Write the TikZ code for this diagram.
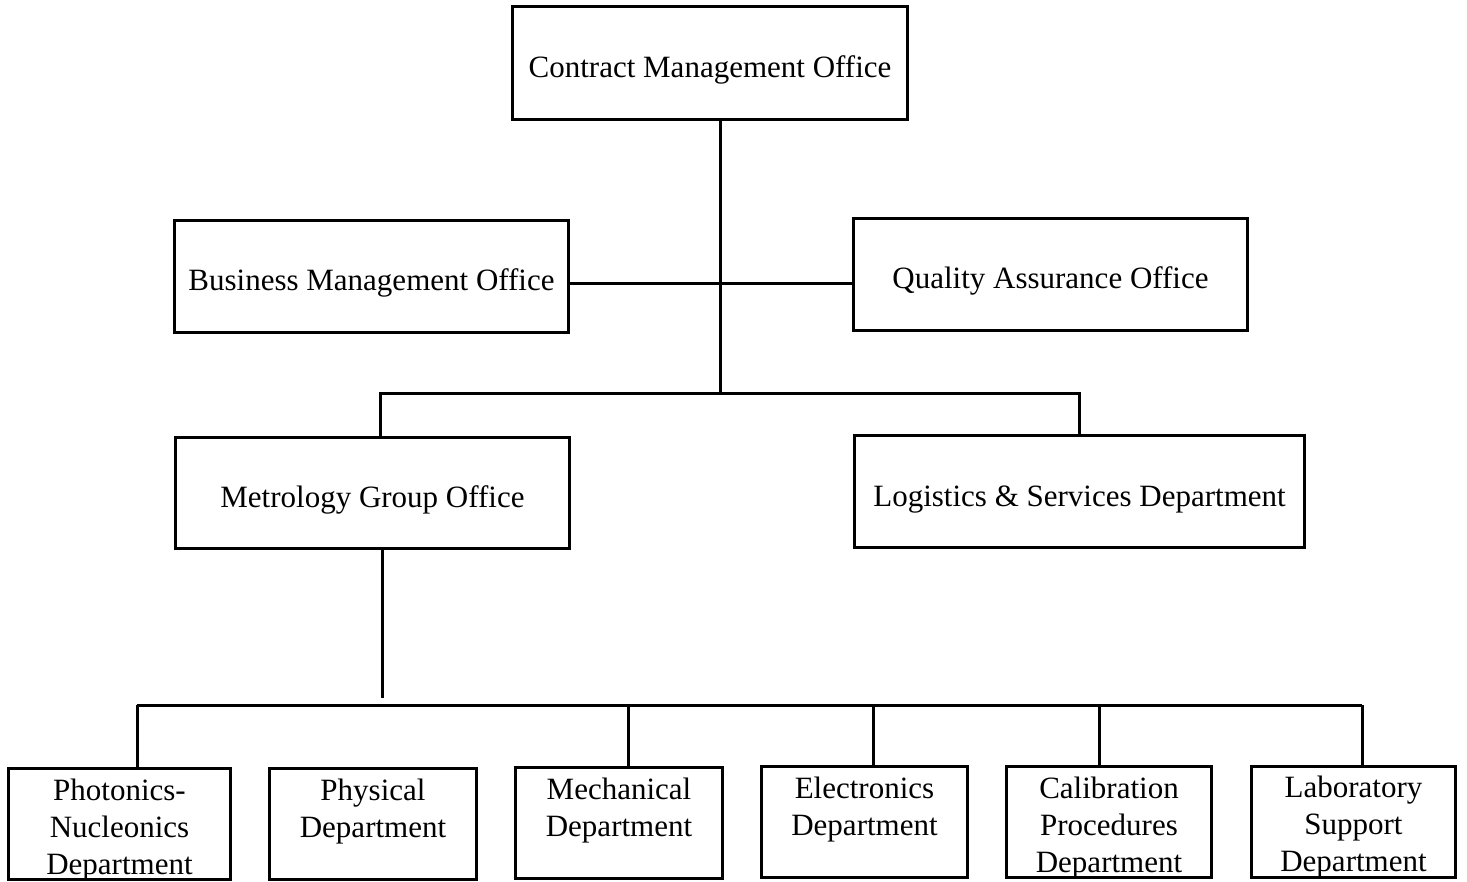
\documentclass[tikz,border=0pt]{standalone}
\usepackage{fontspec}
\setmainfont{Liberation Serif}
\tikzset{
  box/.style={draw=black, line width=3pt, inner sep=0pt, font=\fontsize{31}{37}\selectfont},
  onebox/.style={box, text height=29pt, text depth=0pt},
  conn/.style={draw=black, line width=3pt},
}
\newcommand{\deptbox}[2]{\parbox[c][111pt][t]{#1pt}{\vspace*{10pt}\centering #2}}
\begin{document}
\begin{tikzpicture}[x=1pt,y=-1pt]
\useasboundingbox (0,0) rectangle (1467,882);
% upper offices
\node[onebox, minimum width=395pt, minimum height=113pt] (cmo) at (710,63) {Contract Management Office};
\node[onebox, minimum width=394pt, minimum height=112pt] (bmo) at (371.5,276.5) {Business Management Office};
\node[onebox, minimum width=394pt, minimum height=112pt] (qao) at (1050.5,274.5) {Quality Assurance Office};
\node[onebox, minimum width=394pt, minimum height=111pt] (mgo) at (372.5,493) {Metrology Group Office};
\node[onebox, minimum width=450pt, minimum height=112pt] (lsd) at (1079.5,491.5) {Logistics \& Services Department};
% departments
\node[box] (phot) at (119.5,824) {\deptbox{222}{Photonics-\\Nucleonics\\Department}};
\node[box] (phys) at (373,824) {\deptbox{207}{Physical\\Department}};
\node[box] (mech) at (619,823) {\deptbox{207}{Mechanical\\Department}};
\node[box] (elec) at (864.5,822) {\deptbox{206}{Electronics\\Department}};
\node[box] (cali) at (1109,822) {\deptbox{205}{Calibration\\Procedures\\Department}};
\node[box] (labo) at (1353.5,821.5) {\deptbox{204}{Laboratory\\Support\\Department}};
% junction points
\coordinate (j1) at (720.5,394);
\coordinate (j2) at (380,394);
\coordinate (j3) at (1079,394);
\coordinate (m1) at (382,698);
\coordinate (d1) at (137,705);
\coordinate (d3) at (628,705);
\coordinate (d4) at (873,705);
\coordinate (d5) at (1099,705);
\coordinate (d6) at (1362,705);
% connectors
\draw[conn] (cmo.south -| j1) -- (j1);
\draw[conn] ([yshift=-7pt]bmo.east) -- ([yshift=-7pt]bmo.east -| qao.west);
\draw[conn] (mgo.north -| j2) -- (j2) -- (j3) -- (lsd.north -| j3);
\draw[conn] (mgo.south -| m1) -- (m1);
\draw[conn] (d1) -- (d6);
\draw[conn] (d1) -- (phot.north -| d1);
\draw[conn] (d3) -- (mech.north -| d3);
\draw[conn] (d4) -- (elec.north -| d4);
\draw[conn] (d5) -- (cali.north -| d5);
\draw[conn] (d6) -- (labo.north -| d6);
\end{tikzpicture}
\end{document}
